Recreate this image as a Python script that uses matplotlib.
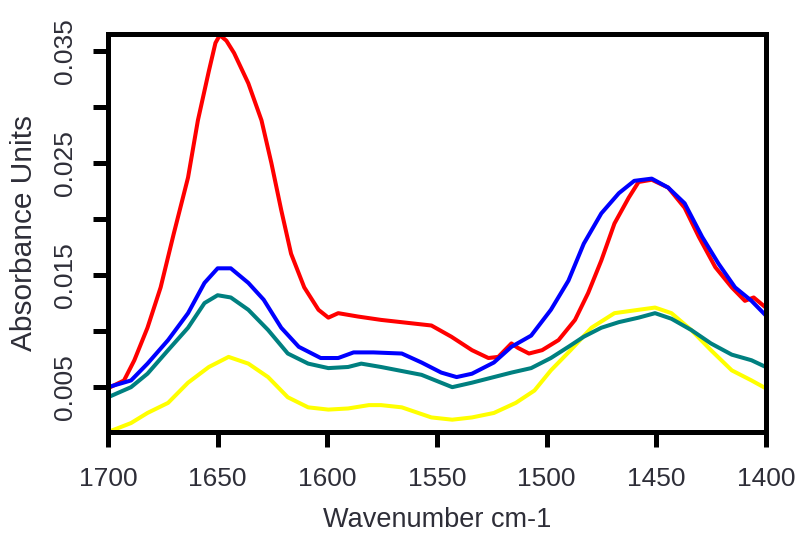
import numpy as np
import matplotlib.pyplot as plt
from matplotlib.ticker import MultipleLocator, FixedLocator

# values (wavenumber, absorbance)
red_x = [1700, 1692.7, 1688, 1682, 1676, 1670, 1663.5, 1659, 1654, 1651, 1649, 1646, 1642.5, 1636,
         1630, 1625.5, 1621, 1616.5, 1610.5, 1604, 1599.5, 1595, 1586, 1575.5, 1552.5,
         1543.4, 1534, 1526.5, 1522, 1516, 1513, 1508, 1502, 1494.5, 1487, 1481, 1475,
         1469, 1462.5, 1458, 1452, 1444.5, 1437, 1430.5, 1423, 1415.5, 1409.5, 1405.5, 1400]
red_y = [0.0049, 0.0056, 0.0074, 0.0103, 0.0139, 0.0187, 0.0237, 0.0288, 0.0332, 0.0357, 0.0364,
         0.0359, 0.0348, 0.0321, 0.0288, 0.0250, 0.0208, 0.0169, 0.0139, 0.0119, 0.0112, 0.0116,
         0.0113, 0.0110, 0.0105, 0.0095, 0.0083, 0.0076, 0.0077, 0.0089, 0.0085, 0.0080,
         0.0083, 0.0092, 0.0110, 0.0134, 0.0163, 0.0196, 0.0219, 0.0233, 0.0235, 0.0228,
         0.0210, 0.0184, 0.0157, 0.0139, 0.0127, 0.0130, 0.0121]

blue_x = [1700, 1689.5, 1682, 1672.6, 1663.5, 1656, 1650, 1644, 1636, 1629, 1621, 1613,
          1603, 1595, 1588, 1579, 1566, 1557, 1548, 1541, 1534, 1524, 1516, 1507, 1498,
          1490, 1483, 1475, 1467, 1460, 1452, 1444.5, 1437, 1429, 1421.5, 1414, 1406.5, 1400]
blue_y = [0.0050, 0.0056, 0.0071, 0.0092, 0.0116, 0.0143, 0.0156, 0.0156, 0.0143, 0.0128,
          0.0103, 0.0086, 0.0076, 0.0076, 0.0081, 0.0081, 0.0080, 0.0072, 0.0063, 0.0059,
          0.0062, 0.0072, 0.0086, 0.0096, 0.0119, 0.0145, 0.0178, 0.0205, 0.0223, 0.0234,
          0.0236, 0.0228, 0.0214, 0.0184, 0.0160, 0.0139, 0.0127, 0.0114]

teal_x = [1700, 1689.5, 1682, 1672.6, 1663.5, 1656, 1650, 1644, 1636, 1627, 1618, 1608.7,
          1599.5, 1590.5, 1584.5, 1575.5, 1557, 1543, 1534, 1524, 1516, 1507, 1498, 1490,
          1483, 1475, 1467, 1458, 1450.5, 1443, 1434, 1425, 1415.5, 1406.5, 1400]
teal_y = [0.0041, 0.0050, 0.0062, 0.0083, 0.0103, 0.0125, 0.0132, 0.0130, 0.0119, 0.0101,
          0.0080, 0.0071, 0.0067, 0.0068, 0.0071, 0.0068, 0.0061, 0.0050, 0.0054, 0.0059,
          0.0063, 0.0067, 0.0076, 0.0086, 0.0095, 0.0103, 0.0108, 0.0112, 0.0116, 0.0111,
          0.0101, 0.0089, 0.0079, 0.0074, 0.0068]

yellow_x = [1700, 1689.5, 1682, 1672.6, 1663.5, 1654, 1645, 1636, 1627, 1618, 1608.7,
            1599.5, 1590.5, 1581, 1575.5, 1566, 1552.5, 1543, 1534, 1524, 1514, 1505.5,
            1498, 1489, 1479.5, 1469, 1458, 1450.5, 1443, 1434, 1425, 1415.5, 1406.5, 1400]
yellow_y = [0.0010, 0.0018, 0.0027, 0.0036, 0.0054, 0.0068, 0.0077, 0.0071, 0.0059, 0.0041,
            0.0032, 0.0030, 0.0031, 0.0034, 0.0034, 0.0032, 0.0023, 0.0021, 0.0023, 0.0027,
            0.0036, 0.0047, 0.0065, 0.0083, 0.0103, 0.0116, 0.0119, 0.0121, 0.0116, 0.0101,
            0.0083, 0.0065, 0.0056, 0.0049]

plt.rcParams['font.family'] = ['Liberation Sans', 'DejaVu Sans']
txt = '#2e2e38'

fig = plt.figure(figsize=(7.96, 5.36), dpi=100)
ax = fig.add_axes([0.1357, 0.194, 0.8263, 0.7426])

lw = 2.9
ax.plot(yellow_x, yellow_y, color='#ffff00', lw=lw)
ax.plot(teal_x, teal_y, color='#008080', lw=lw)
ax.plot(red_x, red_y, color='#ff0000', lw=lw)
ax.plot(blue_x, blue_y, color='#0000ff', lw=lw)

ax.set_xlim(1700, 1400)
ax.set_ylim(0.001, 0.0365)
ax.xaxis.set_major_locator(MultipleLocator(50))
ax.yaxis.set_major_locator(FixedLocator([0.005, 0.015, 0.025, 0.035]))
ax.yaxis.set_minor_locator(FixedLocator([0.010, 0.020, 0.030]))
ax.set_yticklabels(['0.005', '0.015', '0.025', '0.035'], rotation=90, va='center')

for s in ax.spines.values():
    s.set_linewidth(3.6)
ax.tick_params(which='both', direction='out', length=11, width=3.6, color='black')
ax.tick_params(axis='both', labelsize=19, labelcolor=txt, pad=11)
ax.tick_params(axis='x', pad=14)
ax.tick_params(axis='x', which='minor', bottom=False)

ax.set_xlabel('Wavenumber cm-1', fontsize=19.5, color=txt, labelpad=12)
ax.set_ylabel('Absorbance Units', fontsize=21.5, color=txt)
ax.yaxis.set_label_coords(-0.106, 0.5)

fig.savefig('out.png', dpi=100)
